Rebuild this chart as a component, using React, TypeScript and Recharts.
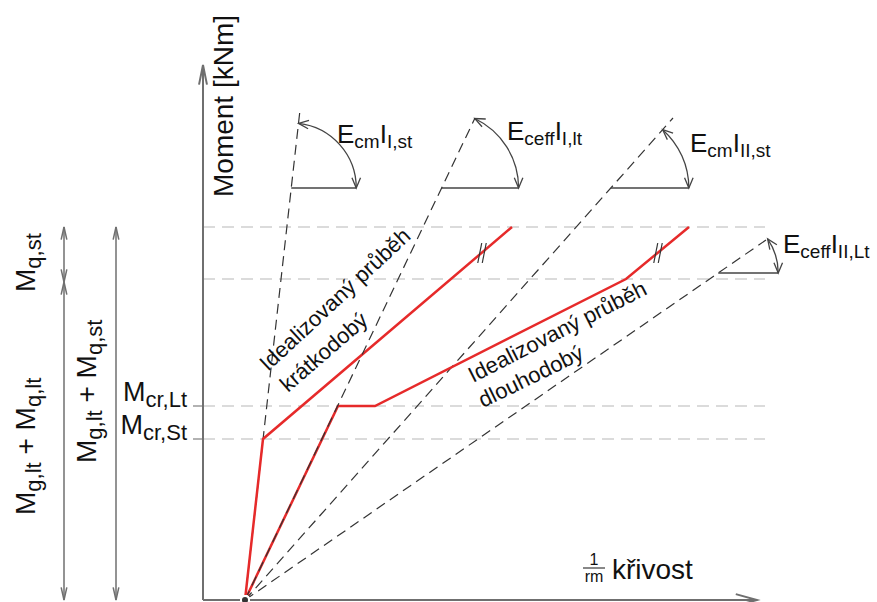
import React from "react";
import { ComposedChart, Line, XAxis, YAxis, ReferenceLine, ReferenceDot } from "recharts";

// units: curvature 1/r (x) and moment (y), arbitrary, both 5 px per unit
const ORIGIN = 8.4;

const shortTermX = [8.4, 12, 61.8];
const shortTermY = [0, 32.2, 74.6];
const longTermX = [8.4, 27, 34.4, 84.6, 97.2];
const longTermY = [0, 38.8, 38.8, 64.2, 74.6];

// stiffness lines E*I, from the origin to these ends
const stiffLabels = ["E_{cm}I_{I,st}", "E_{ceff}I_{I,lt}", "E_{cm}I_{II,st}", "E_{ceff}I_{II,Lt}"];
const stiffEndX = [19.4, 54.4, 94, 112.6];
const stiffEndY = [98, 96.4, 96.4, 72];
const stiffOnTop = [false, true, false, false];
const arcLevel = [82.4, 82.4, 82.4, 65.4];
const arcRadius = [13, 15.4, 15.6, 12];
const stiffLabelX = [26.8, 60.8, 97.4, 116];
const stiffLabelY = [91.4, 92, 89.6, 69.4];

// moment levels
const levelValues = [74.6, 64.2, 38.8, 32.2];
const crackLabels = ["M_{cr,Lt}", "M_{cr,St}"];
const crackLabelY = [39.8, 33.2];

const FONT = '"Liberation Sans", Arial, sans-serif';
const RED = "#e62a2a";
const GREY = "#6f6f6f";

const xDomain = [-40.6, 134.8];
const yDomain = [-0.4, 120];

const parse = (s: string) => {
  const parts: { t: string; sub: boolean }[] = [];
  const re = /([^_]+)|_\{([^}]*)\}/g;
  let m;
  while ((m = re.exec(s))) {
    if (m[1]) parts.push({ t: m[1], sub: false });
    else parts.push({ t: m[2], sub: true });
  }
  return parts;
};

const RichText = ({ x, y, text, size = 25, subSize = 19, anchor = "start", rotate = 0, subShift = 5 }: any) => {
  let prev = false;
  return (
    <text
      x={x}
      y={y}
      fontSize={size}
      fontFamily={FONT}
      fill="#111"
      textAnchor={anchor}
      transform={rotate ? `rotate(${rotate} ${x} ${y})` : undefined}
    >
      {parse(text).map((p, i) => {
        const dy = p.sub && !prev ? subShift : !p.sub && prev ? -subShift : 0;
        prev = p.sub;
        return (
          <tspan key={i} dy={dy} fontSize={p.sub ? subSize : size}>
            {p.t}
          </tspan>
        );
      })}
    </text>
  );
};

const head = (tx: number, ty: number, dx: number, dy: number, size = 10, spread = 0.4) => {
  const a = Math.atan2(dy, dx);
  const p1 = [tx - size * Math.cos(a - spread), ty - size * Math.sin(a - spread)];
  const p2 = [tx - size * Math.cos(a + spread), ty - size * Math.sin(a + spread)];
  return `M${p1[0]},${p1[1]} L${tx},${ty} L${p2[0]},${p2[1]}`;
};

const arrowShape = (both: boolean, size: number, spread: number, color = GREY, width = 1.5) => (props: any) => {
  const { x1, y1, x2, y2 } = props;
  return (
    <g fill="none" stroke={color} strokeWidth={width}>
      <line x1={x1} y1={y1} x2={x2} y2={y2} />
      <path d={head(x2, y2, x2 - x1, y2 - y1, size, spread)} />
      {both && <path d={head(x1, y1, x1 - x2, y1 - y2, size, spread)} />}
    </g>
  );
};

const arcShape = (theta: number) => (props: any) => {
  const { x1, y1, x2, y2 } = props;
  const r = x2 - x1;
  const ex = x1 + r * Math.cos(theta);
  const ey = y1 - r * Math.sin(theta);
  return (
    <g fill="none" stroke="#444" strokeWidth={1.3}>
      <line x1={x1} y1={y1} x2={x2} y2={y2} />
      <path d={`M${x2},${y2} A${r},${r} 0 0 0 ${ex},${ey}`} />
      <path d={head(x2, y2, 0, 1, 11, 0.4)} />
      <path d={head(ex, ey, -Math.sin(theta), -Math.cos(theta), 11, 0.4)} />
    </g>
  );
};

const slashShape = (props: any) => {
  const { x1, y1, x2, y2 } = props;
  return <line x1={x1} y1={y1} x2={x2} y2={y2} stroke="#333" strokeWidth={1.2} />;
};

const toPts = (xs: number[], ys: number[]) => xs.map((x, i) => ({ x, y: ys[i] }));

const stiffLine = (i: number) => (
  <Line
    key={"st" + i}
    data={toPts([ORIGIN, stiffEndX[i]], [0, stiffEndY[i]])}
    dataKey="y"
    stroke="#333"
    strokeWidth={1.2}
    strokeDasharray="10 6"
    dot={false}
    isAnimationActive={false}
  />
);

export default function App() {
  return (
    <div style={{ position: "fixed", left: 0, top: 0, background: "#fff" }}>
      <ComposedChart width={877} height={602} margin={{ top: 0, right: 0, bottom: 0, left: 0 }}>
        <XAxis type="number" dataKey="x" domain={xDomain} allowDataOverflow hide />
        <YAxis type="number" dataKey="y" domain={yDomain} allowDataOverflow hide />

        {/* level lines */}
        {levelValues.map((v, i) => (
          <ReferenceLine
            key={"lv" + i}
            segment={[{ x: 0, y: v }, { x: 112.4, y: v }]}
            stroke="#cfcfcf"
            strokeWidth={1.5}
            strokeDasharray="12 7"
          />
        ))}
        {levelValues.slice(2).map((v, i) => (
          <ReferenceLine key={"tk" + i} segment={[{ x: -2, y: v }, { x: 0, y: v }]} stroke="#999" strokeWidth={1.5} />
        ))}

        {/* axes */}
        <ReferenceLine segment={[{ x: 0, y: 0 }, { x: 0, y: 107 }]} shape={arrowShape(false, 20, 0.2, GREY, 2)} />
        <ReferenceLine segment={[{ x: 0, y: 0 }, { x: 110.8, y: 0 }]} shape={arrowShape(false, 22, 0.27, GREY, 2)} />

        {/* dimension arrows */}
        <ReferenceLine segment={[{ x: -27.8, y: 63.6 }, { x: -27.8, y: 74.6 }]} shape={arrowShape(true, 13, 0.22)} />
        <ReferenceLine segment={[{ x: -27.8, y: 0 }, { x: -27.8, y: 63.6 }]} shape={arrowShape(true, 13, 0.22)} />
        <ReferenceLine segment={[{ x: -17.4, y: 0 }, { x: -17.4, y: 74.6 }]} shape={arrowShape(true, 13, 0.22)} />

        {/* stiffness lines under the curves */}
        {stiffEndX.map((_, i) => (stiffOnTop[i] ? null : stiffLine(i)))}
        {stiffEndX.map((ex, i) => {
          const theta = Math.atan2(stiffEndY[i], ex - ORIGIN);
          const cx = ORIGIN + (arcLevel[i] * (ex - ORIGIN)) / stiffEndY[i];
          return (
            <ReferenceLine
              key={"arc" + i}
              segment={[{ x: cx, y: arcLevel[i] }, { x: cx + arcRadius[i], y: arcLevel[i] }]}
              shape={arcShape(theta)}
            />
          );
        })}

        {/* idealised curves */}
        <Line data={toPts(shortTermX, shortTermY)} dataKey="y" stroke={RED} strokeWidth={2.5} dot={false} isAnimationActive={false} />
        <Line data={toPts(longTermX, longTermY)} dataKey="y" stroke={RED} strokeWidth={2.5} dot={false} isAnimationActive={false} />
        {stiffEndX.map((_, i) => (stiffOnTop[i] ? stiffLine(i) : null))}

        {/* break marks */}
        {[55.8, 91].map((x, i) =>
          [-0.45, 0.45].map((o, j) => (
            <ReferenceLine
              key={"br" + i + j}
              segment={[{ x: x + o - 0.4, y: 67.4 }, { x: x + o + 0.4, y: 71.4 }]}
              shape={slashShape}
            />
          ))
        )}

        {/* texts */}
        <ReferenceDot x={6} y={98.8} r={1} shape={(p: any) => <RichText x={p.cx} y={p.cy} text="Moment [kNm]" size={28} anchor="middle" rotate={-90} />} />
        {stiffLabels.map((t, i) => (
          <ReferenceDot key={"sl" + i} x={stiffLabelX[i]} y={stiffLabelY[i]} r={1} shape={(p: any) => <RichText x={p.cx} y={p.cy} text={t} size={26} subSize={19} />} />
        ))}
        {crackLabels.map((t, i) => (
          <ReferenceDot key={"cl" + i} x={-3.2} y={crackLabelY[i]} r={1} shape={(p: any) => <RichText x={p.cx} y={p.cy} text={t} size={27} subSize={22} anchor="end" subShift={6} />} />
        ))}
        <ReferenceDot x={-33.6} y={61.6} r={1} shape={(p: any) => <RichText x={p.cx} y={p.cy} text="M_{q,st}" size={28} subSize={22} rotate={-90} subShift={6} />} />
        <ReferenceDot x={-33.6} y={17} r={1} shape={(p: any) => <RichText x={p.cx} y={p.cy} text="M_{g,lt} + M_{q,lt}" size={28} subSize={22} rotate={-90} subShift={6} />} />
        <ReferenceDot x={-21.4} y={27.4} r={1} shape={(p: any) => <RichText x={p.cx} y={p.cy} text="M_{g,lt} + M_{q,st}" size={28} subSize={22} rotate={-90} subShift={6} />} />

        <ReferenceDot x={13} y={45.6} r={1} shape={(p: any) => <RichText x={p.cx} y={p.cy} text="Idealizovaný průběh" size={22} rotate={-43} />} />
        <ReferenceDot x={17} y={41.4} r={1} shape={(p: any) => <RichText x={p.cx} y={p.cy} text="krátkodobý" size={22} rotate={-41} />} />
        <ReferenceDot x={54} y={43.4} r={1} shape={(p: any) => <RichText x={p.cx} y={p.cy} text="Idealizovaný průběh" size={22} rotate={-27} />} />
        <ReferenceDot x={56} y={38.4} r={1} shape={(p: any) => <RichText x={p.cx} y={p.cy} text="dlouhodobý" size={22} rotate={-26} />} />

        <ReferenceDot
          x={81.8}
          y={4.2}
          r={1}
          shape={(p: any) => (
            <g fontFamily={FONT} fill="#111">
              <text x={p.cx - 18} y={p.cy - 14} fontSize={16} textAnchor="middle">1</text>
              <line x1={p.cx - 29} y1={p.cy - 11} x2={p.cx - 7} y2={p.cy - 11} stroke="#111" strokeWidth={1} />
              <text x={p.cx - 18} y={p.cy + 3} fontSize={16} textAnchor="middle">rm</text>
              <text x={p.cx} y={p.cy} fontSize={28}>křivost</text>
            </g>
          )}
        />
      </ComposedChart>
    </div>
  );
}
